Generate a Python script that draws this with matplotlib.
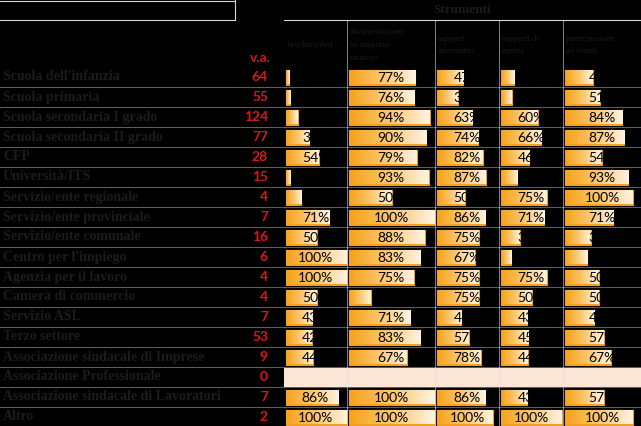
import numpy as np
import matplotlib
matplotlib.use("Agg")
import matplotlib.pyplot as plt
from matplotlib.colors import LinearSegmentedColormap

rows = ["Scuola dell'infanzia", "Scuola primaria", "Scuola secondaria I grado",
        "Scuola secondaria II grado", "CFP", "Università/ITS",
        "Servizio/ente regionale", "Servizio/ente provinciale",
        "Servizio/ente comunale", "Centro per l'impiego", "Agenzia per il lavoro",
        "Camera di commercio", "Servizio ASL", "Terzo settore",
        "Associazione sindacale di Imprese", "Associazione Professionale",
        "Associazione sindacale di Lavoratori", "Altro"]
va = [64, 55, 124, 77, 28, 15, 4, 7, 16, 6, 4, 4, 7, 53, 9, 0, 7, 2]
columns = ["brochure/dvd", "documentazione\nsu supporto\ncartaceo",
           "supporti\ninformatici", "supporti di\nesperti", "partecipazione\nad eventi"]
brochure = [5, 7, 19, 38, 54, 7, 25, 71, 50, 100, 100, 50, 43, 42, 44, None, 86, 100]
cartaceo = [77, 76, 94, 90, 79, 93, 50, 100, 88, 83, 75, 25, 71, 83, 67, None, 100, 100]
informatici = [47, 37, 63, 74, 82, 87, 50, 86, 75, 67, 75, 75, 43, 57, 78, None, 86, 100]
esperti = [22, 18, 60, 66, 46, 27, 75, 71, 31, 17, 75, 50, 43, 45, 44, None, 43, 100]
eventi = [41, 51, 84, 87, 54, 93, 100, 71, 38, 33, 50, 50, 43, 57, 67, None, 57, 100]
series = [brochure, cartaceo, informatici, esperti, eventi]

# layout in pixels
W, H = 641, 426
row0, pitch = 77, 20
col_edges = [284, 347, 435, 499, 563, 641]
bar_max = [61, 86, 56, 61, 68]
bar_h = 15

fig = plt.figure(figsize=(W / 100, H / 100), dpi=100, facecolor="black")
ax = fig.add_axes([0, 0, 1, 1], facecolor="black")

dark = "#1c1c1c"
red = "#d7191c"
line = "#d8d8d8"
grad = LinearSegmentedColormap.from_list("bar", ["#f6a21a", "#fbc66e", "#fff4e4"])
g = np.linspace(0, 1, 256).reshape(1, -1)

y = row0 + pitch * np.arange(len(rows))

# header
ax.plot([0, 235], [1, 1], color=line, lw=0.8)
ax.plot([0, 235], [20, 20], color=line, lw=0.8)
ax.plot([235, 235], [0, 20], color=line, lw=0.8)
ax.plot([284, 641], [20, 20], color=line, lw=0.8)
ax.text(462, 10, "Strumenti", ha="center", va="center", color=dark,
        fontsize=9.5, fontweight="bold", family="Liberation Serif")
ax.text(260, 58, "v.a.", ha="center", va="center", color=red,
        fontsize=10, fontweight="bold", family="Lato")
for j, name in enumerate(columns):
    ax.text(col_edges[j] + 3, 45, name, ha="left", va="center", color=dark,
            fontsize=6, family="Liberation Serif", linespacing=1.8)

# grid lines
for yy in y[:-1] + pitch / 2:
    ax.plot([0, 641], [yy, yy], color=line, lw=0.7, alpha=0.45)
for x in col_edges[1:-1]:
    ax.plot([x, x], [20, H], color=line, lw=0.7, alpha=0.6)

# empty row band
for i, v in enumerate(va):
    if v == 0:
        ax.barh(y[i], col_edges[-1] - col_edges[0], left=col_edges[0],
                height=pitch - 1, color="#fbe5d6")

# labels and counts
for i, name in enumerate(rows):
    ax.text(3, y[i], name, ha="left", va="center", color=dark,
            fontsize=10, fontweight="bold", family="Liberation Serif")
    ax.text(268, y[i], str(va[i]), ha="right", va="center", color=red,
            fontsize=10, fontweight="bold", family="Lato")

# data bars
for j, vals in enumerate(series):
    left = col_edges[j] + 2
    for i, v in enumerate(vals):
        if v is None:
            continue
        w = v / 100 * bar_max[j]
        bar = ax.barh(y[i], w, left=left, height=bar_h, color="#f6a21a",
                      edgecolor="#efa02a", lw=0.8)[0]
        im = ax.imshow(g, cmap=grad, aspect="auto",
                       extent=[left, left + w, y[i] + bar_h / 2, y[i] - bar_h / 2],
                       zorder=2)
        im.set_clip_path(bar)
        ax.text((col_edges[j] + col_edges[j + 1]) / 2, y[i] + 0.5, f"{v}%",
                ha="center", va="center", color="black", fontsize=10,
                family="Lato", zorder=3)

ax.set_xlim(0, W)
ax.set_ylim(H, 0)
ax.axis("off")

fig.savefig("out.png", dpi=100, facecolor="black")
